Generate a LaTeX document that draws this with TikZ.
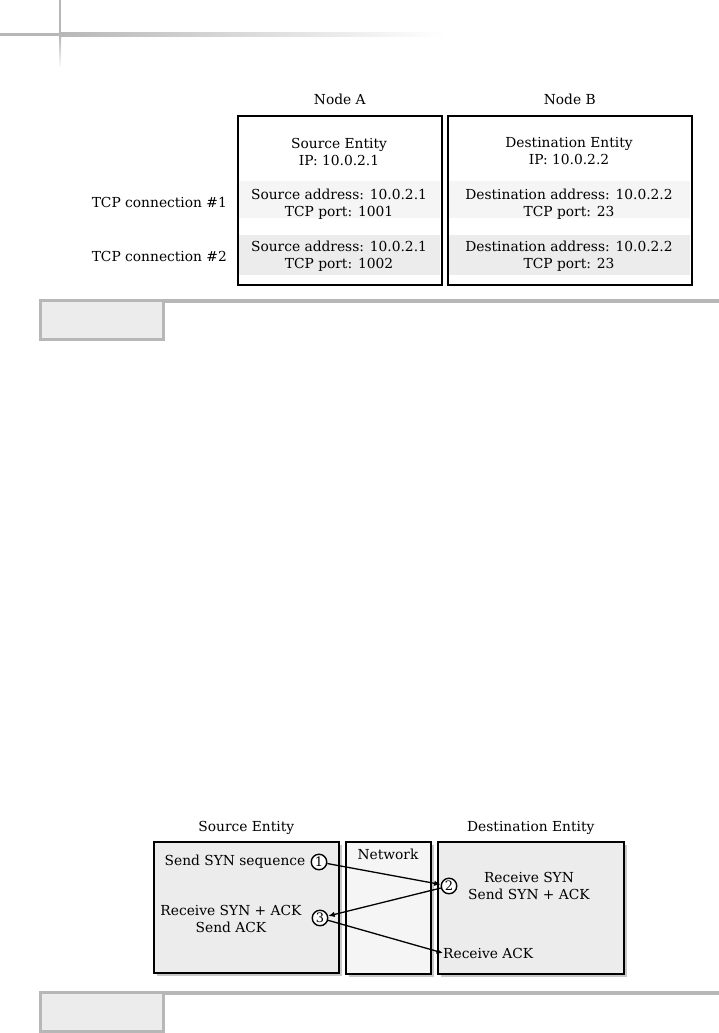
\documentclass[tikz,border=0pt]{standalone}
\usepackage{xcolor}
\usepackage{fontspec}
\setmainfont{DejaVu Serif}
\usetikzlibrary{arrows.meta, positioning, shadows}
\definecolor{railgray}{RGB}{183,183,183}
\definecolor{panelgray}{RGB}{236,236,236}
\definecolor{bandlight}{RGB}{245,245,245}
\definecolor{shadowgray}{RGB}{200,200,200}
\tikzset{
  lbl/.style={font=\fontsize{13.8}{17}\selectfont, align=center, inner sep=0pt},
  entitybox/.style={draw=black, line width=1.6pt, inner sep=0pt},
  flowbox/.style={entitybox, line width=1.5pt,
    drop shadow={shadow xshift=3pt, shadow yshift=-3pt, fill=shadowgray, opacity=1}},
  stepnum/.style={circle, draw=black, line width=1.4pt, fill=white,
    minimum size=15.5pt, inner sep=0pt, font=\fontsize{13}{13}\selectfont},
  msg/.style={-{Latex[length=6.5pt,width=5.5pt]}, line width=1.3pt},
}

\begin{document}
\begin{tikzpicture}[x=1pt, y=-1pt]
    \useasboundingbox (0,0) rectangle (719,1033);

    % Page corner rails
    \fill[railgray] (0,33) rectangle (60,36.5);
    \shade[left color=railgray, right color=white] (60,33) rectangle (445,36.5);
    \fill[railgray] (59,0) rectangle (61,36.5);
    \shade[top color=railgray, bottom color=white] (59,36.5) rectangle (61,68);

    % Table bands
    \fill[bandlight] (238,181) rectangle (440,218);
    \fill[panelgray] (238,235) rectangle (440,275);
    \fill[bandlight] (448,181) rectangle (690,218);
    \fill[panelgray] (448,235) rectangle (690,275);

    % Node boxes
    \node[entitybox, minimum width=204pt, minimum height=169pt, anchor=north west] (nodeA) at (237,115) {};
    \node[entitybox, minimum width=244pt, minimum height=169pt, anchor=north west] (nodeB) at (447,115) {};
    \node[lbl, above=10pt of nodeA] (nodeAlbl) {Node A};
    \node[lbl, above=10pt of nodeB] (nodeBlbl) {Node B};

    % Cell texts
    \node[lbl] (srcHead) at (339,151.5) {Source Entity\\IP: 10.0.2.1};
    \node[lbl] (srcConn1) at (339,204.5) {Source address: 10.0.2.1\\TCP port: 1001};
    \node[lbl] (srcConn2) at (339,256.5) {Source address: 10.0.2.1\\TCP port: 1002};
    \node[lbl] (dstHead) at (569,151.5) {Destination Entity\\IP: 10.0.2.2};
    \node[lbl] (dstConn1) at (569,204.5) {Destination address: 10.0.2.2\\TCP port: 23};
    \node[lbl] (dstConn2) at (569,256.5) {Destination address: 10.0.2.2\\TCP port: 23};

    % Row labels
    \node[lbl, anchor=east] (conn1) at (227,202) {TCP connection \#1};
    \node[lbl, anchor=east] (conn2) at (227,256) {TCP connection \#2};

    % Caption bar 1
    \fill[railgray] (165,299) rectangle (719,302.5);
    \draw[railgray, fill=panelgray, line width=3pt] (40.5,300.5) rectangle (163.5,339.5);

    % Handshake boxes
    \node[flowbox, fill=panelgray, minimum width=185pt, minimum height=131pt, anchor=north west] (srcEnt) at (153,841) {};
    \node[flowbox, fill=bandlight, minimum width=85pt, minimum height=132pt, anchor=north west] (netBox) at (345,841) {};
    \node[flowbox, fill=panelgray, minimum width=186pt, minimum height=132pt, anchor=north west] (dstEnt) at (437,841) {};
    \node[lbl, above=6pt of srcEnt] (srcEntlbl) {Source Entity};
    \node[lbl, above=6pt of dstEnt] (dstEntlbl) {Destination Entity};
    \node[lbl] (netlbl) at (388,854) {Network};

    % Steps
    \node[stepnum] (s1) at (319,862) {1};
    \node[stepnum] (s2) at (449,886) {2};
    \node[stepnum] (s3) at (320,918) {3};
    \node[lbl, left=5pt of s1] (sendSyn) {Send SYN sequence};
    \node[lbl] (rcvSynAck) at (231,918.5) {Receive SYN + ACK\\Send ACK};
    \node[lbl] (rcvSyn) at (529,886) {Receive SYN\\Send SYN + ACK};
    \node[lbl, anchor=west] (rcvAck) at (443,953) {Receive ACK};

    % Messages
    \draw[msg] (s1) -- (s2);
    \draw[msg] (s2) -- (s3);
    \draw[msg] (s3) -- (rcvAck.west);

    % Caption bar 2
    \fill[railgray] (165,991) rectangle (719,994.5);
    \draw[railgray, fill=panelgray, line width=3pt] (40.5,992.5) rectangle (163.5,1031.5);
\end{tikzpicture}
\end{document}
